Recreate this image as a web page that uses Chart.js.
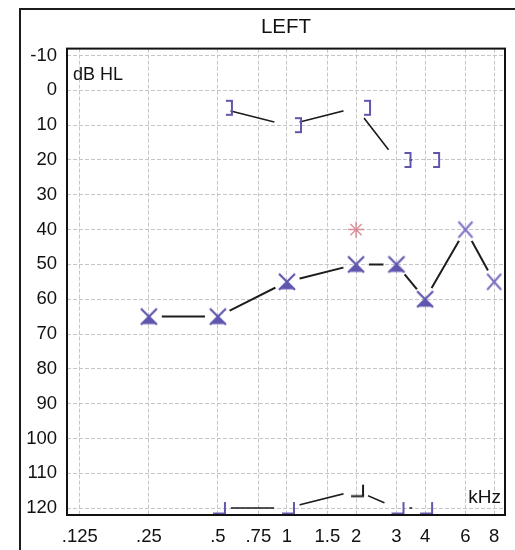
<!DOCTYPE html>
<html>
<head>
<meta charset="utf-8">
<title>Audiogram - LEFT</title>
<script src="https://cdn.jsdelivr.net/npm/chart.js@4.4.1/dist/chart.umd.min.js"></script>
<style>
  html, body { margin: 0; padding: 0; background: #fff; }
  #wrap { width: 515px; height: 550px; }
</style>
</head>
<body>
<div id="wrap"><canvas id="chart"></canvas></div>
<script>
// axis ticks
const freqTicks = [0.125, 0.25, 0.5, 0.75, 1, 1.5, 2, 3, 4, 6, 8];
const freqLabels = ['.125', '.25', '.5', '.75', '1', '1.5', '2', '3', '4', '6', '8'];
const dbTicks = [-10, 0, 10, 20, 30, 40, 50, 60, 70, 80, 90, 100, 110, 120];

// air conduction, left ear
const acFreq = [0.25, 0.5, 1, 2, 3, 4, 6, 8];
const acDb = [65, 65, 55, 50, 50, 60, 40, 55];

// bone conduction, masked
const bcFreq = [0.5, 1, 2, 3, 4];
const bcDb = [5, 10, 5, 20, 20];

// bone conduction, no response
const nrFreq = [0.5, 1, 2, 3, 4];
const nrDb = [120, 120, 115, 120, 120];

// stray pink mark on the sheet
const markFreq = [2];
const markDb = [40];

const FONT = '"Liberation Sans", Arial, sans-serif';
const PURPLE = '#5f56ad';
const LIGHT_PURPLE = '#7b70c6';
const INK = '#1c1c1c';

const pts = (f, d) => f.map((x, i) => ({x: x, y: d[i]}));

// little canvases used as point styles
function glyph(w, h, draw){
    const c = document.createElement('canvas');
    c.width = w;
    c.height = h;
    draw(c.getContext('2d'));
    return c;
}

const xTri = glyph(20, 20, g => {
    g.strokeStyle = PURPLE;
    g.lineWidth = 2.2;
    g.beginPath();
    g.moveTo(2, 2); g.lineTo(18, 18);
    g.moveTo(18, 2); g.lineTo(2, 18);
    g.stroke();
    g.fillStyle = PURPLE;
    g.beginPath();
    g.moveTo(10, 10); g.lineTo(2.5, 17.5); g.lineTo(17.5, 17.5);
    g.closePath();
    g.fill();
});

const xPlain = glyph(20, 20, g => {
    g.strokeStyle = LIGHT_PURPLE;
    g.lineWidth = 2;
    g.beginPath();
    g.moveTo(3, 2); g.lineTo(17, 18);
    g.moveTo(17, 2); g.lineTo(3, 18);
    g.stroke();
});

const bracket = glyph(40, 20, g => {
    g.strokeStyle = PURPLE;
    g.lineWidth = 2;
    g.beginPath();
    g.moveTo(28, 3); g.lineTo(34, 3); g.lineTo(34, 17); g.lineTo(28, 17);
    g.stroke();
});

function noResp(color){
    return glyph(40, 20, g => {
        g.strokeStyle = color;
        g.lineWidth = 2;
        g.beginPath();
        g.moveTo(27, 4); g.lineTo(27, 15.5); g.lineTo(15, 15.5);
        g.stroke();
    });
}
const nrPurple = noResp(PURPLE);
const nrDark = noResp(INK);

// lines stop short of the symbols: clip a hole round every point of a dataset with `gap`
const gapClip = {
    id: 'gapClip',
    beforeDatasetDraw(chart, args){
        const gap = chart.data.datasets[args.index].gap;
        if(!gap) return;
        const ctx = chart.ctx;
        ctx.save();
        ctx.beginPath();
        ctx.rect(0, 0, chart.width, chart.height);
        args.meta.data.forEach(p => {
            ctx.moveTo(p.x + gap, p.y);
            ctx.arc(p.x, p.y, gap, 0, Math.PI * 2, true);
        });
        ctx.clip('evenodd');
    },
    afterDatasetDraw(chart, args){
        if(chart.data.datasets[args.index].gap) chart.ctx.restore();
    }
};

// sheet frame, plot frame and the two axis captions
const decor = {
    id: 'decor',
    beforeDraw(chart){
        const ctx = chart.ctx;
        ctx.save();
        ctx.strokeStyle = INK;
        ctx.lineWidth = 2;
        ctx.beginPath();
        ctx.moveTo(20, chart.height);
        ctx.lineTo(20, 9);
        ctx.lineTo(chart.width, 9);
        ctx.stroke();
        ctx.restore();
    },
    afterDraw(chart){
        const ctx = chart.ctx, a = chart.chartArea;
        ctx.save();
        ctx.strokeStyle = '#111';
        ctx.lineWidth = 2;
        ctx.strokeRect(a.left, a.top, a.right - a.left, a.bottom - a.top);
        ctx.fillStyle = '#111';
        ctx.textBaseline = 'alphabetic';
        ctx.font = '18px ' + FONT;
        ctx.textAlign = 'left';
        ctx.fillText('dB HL', a.left + 6, a.top + 31);
        ctx.font = '19px ' + FONT;
        ctx.textAlign = 'right';
        ctx.fillText('kHz', a.right - 4, a.bottom - 12);
        ctx.restore();
    }
};

const gridOpts = {color: '#c6c6c6', lineWidth: 1, drawTicks: false};

new Chart(document.getElementById('chart'), {
    type: 'scatter',
    data: {
        datasets: [
            {
                label: 'AC',
                data: pts(acFreq, acDb),
                showLine: false,
                pointStyle: c => (c.dataIndex < 6 ? xTri : xPlain),
                pointRadius: 9,
                clip: false
            },
            {
                label: 'BC masked',
                data: pts(bcFreq, bcDb),
                showLine: false,
                pointStyle: bracket,
                pointRadius: 9,
                clip: false
            },
            {
                label: 'BC no response',
                data: pts(nrFreq, nrDb),
                showLine: false,
                pointStyle: c => (nrDb[c.dataIndex] < 120 ? nrDark : nrPurple),
                pointRadius: 9,
                clip: false
            },
            {
                label: 'mark',
                data: pts(markFreq, markDb),
                showLine: false,
                pointStyle: 'star',
                pointRadius: 8,
                borderWidth: 1.5,
                borderColor: 'rgba(215,120,135,0.8)',
                backgroundColor: 'rgba(215,120,135,0.4)'
            },
            {
                label: 'AC line',
                data: pts(acFreq, acDb),
                showLine: true,
                pointRadius: 0,
                borderColor: INK,
                borderWidth: 2,
                gap: 13
            },
            {
                label: 'BC line',
                data: pts(bcFreq, bcDb),
                showLine: true,
                pointRadius: 0,
                borderColor: INK,
                borderWidth: 1.6,
                gap: 13
            },
            {
                label: 'NR line',
                data: pts(nrFreq, nrDb),
                showLine: true,
                pointRadius: 0,
                borderColor: INK,
                borderWidth: 1.6,
                gap: 13
            }
        ]
    },
    options: {
        responsive: true,
        maintainAspectRatio: false,
        animation: false,
        events: [],
        layout: {padding: {left: 26, right: 4, top: 9, bottom: 2}},
        scales: {
            x: {
                type: 'logarithmic',
                min: 0.1099,
                max: 8.92,
                afterBuildTicks: axis => { axis.ticks = freqTicks.map(v => ({value: v})); },
                afterFit: axis => { axis.height = 33; axis.paddingLeft = 0; axis.paddingRight = 0; },
                grid: gridOpts,
                border: {display: false, dash: [4, 2]},
                ticks: {
                    autoSkip: false,
                    maxRotation: 0,
                    minRotation: 0,
                    padding: 11,
                    color: '#111',
                    font: {family: FONT, size: 18.5},
                    callback: (v, i) => freqLabels[i]
                }
            },
            y: {
                type: 'linear',
                reverse: true,
                min: -12,
                max: 122,
                afterBuildTicks: axis => { axis.ticks = dbTicks.map(v => ({value: v})); },
                afterFit: axis => { axis.width = 41; axis.paddingTop = 0; axis.paddingBottom = 0; },
                grid: gridOpts,
                border: {display: false, dash: [4, 2]},
                ticks: {
                    padding: 10,
                    color: '#111',
                    font: {family: FONT, size: 18.5},
                    callback: v => String(v)
                }
            }
        },
        plugins: {
            legend: {display: false},
            tooltip: {enabled: false},
            title: {
                display: true,
                text: 'LEFT',
                fullSize: false,
                color: '#111',
                font: {family: FONT, size: 20.5, weight: 'normal'},
                padding: {top: 6, bottom: 9}
            }
        }
    },
    plugins: [gapClip, decor]
});
</script>
</body>
</html>
